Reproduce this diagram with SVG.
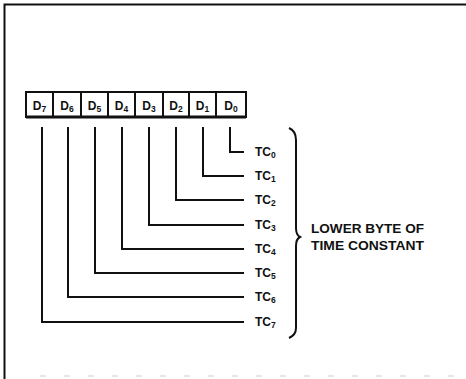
<svg xmlns="http://www.w3.org/2000/svg" width="466" height="379" viewBox="0 0 466 379">
<style>
.ln{fill:none;stroke:#111;stroke-width:2}
.t{font-family:"Liberation Sans",Arial,sans-serif;font-weight:bold;font-size:12px;fill:#111}
.s{font-size:8.5px}
</style>
<rect width="466" height="379" fill="#fff"/>
<g id="frame">
<path d="M4.5,379 V4.5 H466" class="ln" stroke-width="1.6"/>
<line x1="40" y1="376" x2="466" y2="376" stroke="#ccc" stroke-width="1" stroke-dasharray="6 18"/>
</g>
<g id="register">
<rect x="26" y="92" width="220" height="25" class="ln"/>
<line x1="26" y1="117" x2="246" y2="117" stroke="#111" stroke-width="3"/>
<path d="M53,92V117M81,92V117M108,92V117M135,92V117M163,92V117M189,92V117M216,92V117" class="ln" stroke-width="1.5"/>
<text class="t" x="39.5" y="109.5" text-anchor="middle">D<tspan class="s" dy="2">7</tspan></text>
<text class="t" x="67" y="109.5" text-anchor="middle">D<tspan class="s" dy="2">6</tspan></text>
<text class="t" x="94.5" y="109.5" text-anchor="middle">D<tspan class="s" dy="2">5</tspan></text>
<text class="t" x="121.5" y="109.5" text-anchor="middle">D<tspan class="s" dy="2">4</tspan></text>
<text class="t" x="149" y="109.5" text-anchor="middle">D<tspan class="s" dy="2">3</tspan></text>
<text class="t" x="176" y="109.5" text-anchor="middle">D<tspan class="s" dy="2">2</tspan></text>
<text class="t" x="202.5" y="109.5" text-anchor="middle">D<tspan class="s" dy="2">1</tspan></text>
<text class="t" x="231" y="109.5" text-anchor="middle">D<tspan class="s" dy="2">0</tspan></text>
</g>
<g id="connectors">
<path class="ln" d="M230,127V152H244"/>
<path class="ln" d="M203,127V176H244"/>
<path class="ln" d="M176,127V200H244"/>
<path class="ln" d="M149,127V225H244"/>
<path class="ln" d="M122,127V249H244"/>
<path class="ln" d="M95,127V273H244"/>
<path class="ln" d="M68,127V297H244"/>
<path class="ln" d="M42,127V322H244"/>
</g>
<g id="tc-labels">
<text class="t" x="255" y="156">TC<tspan class="s" dy="2">0</tspan></text>
<text class="t" x="255" y="180">TC<tspan class="s" dy="2">1</tspan></text>
<text class="t" x="255" y="204">TC<tspan class="s" dy="2">2</tspan></text>
<text class="t" x="255" y="229">TC<tspan class="s" dy="2">3</tspan></text>
<text class="t" x="255" y="253">TC<tspan class="s" dy="2">4</tspan></text>
<text class="t" x="255" y="277">TC<tspan class="s" dy="2">5</tspan></text>
<text class="t" x="255" y="301">TC<tspan class="s" dy="2">6</tspan></text>
<text class="t" x="255" y="326">TC<tspan class="s" dy="2">7</tspan></text>
</g>
<g id="brace">
<path class="ln" d="M289,128 Q296,131 296,140 V228 Q296,235 300,237 Q296,239 296,246 V328 Q296,335 289,338"/>
</g>
<g id="caption">
<text class="t" x="311" y="233" textLength="113" lengthAdjust="spacingAndGlyphs">LOWER BYTE OF</text>
<text class="t" x="311" y="250" textLength="113" lengthAdjust="spacingAndGlyphs">TIME CONSTANT</text>
</g>
</svg>
